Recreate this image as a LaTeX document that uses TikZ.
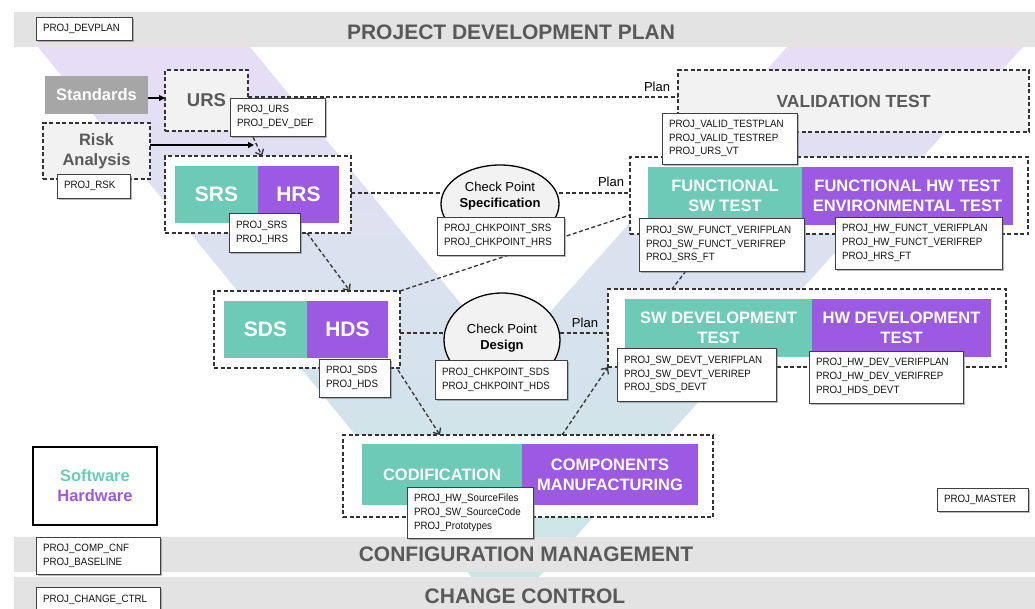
\documentclass[tikz,border=0pt]{standalone}
\usepackage{fontspec}
\setmainfont{Liberation Sans}
\newfontfamily\lblfont{Liberation Sans}[FakeStretch=0.92]
\usetikzlibrary{arrows.meta,shadows,calc,shapes.geometric}
\definecolor{bandgray}{RGB}{227,227,227}
\definecolor{titlegray}{RGB}{89,89,89}
\definecolor{tealc}{RGB}{108,202,182}
\definecolor{purplec}{RGB}{156,89,225}
\definecolor{stdgray}{RGB}{166,166,166}
\definecolor{boxgray}{RGB}{242,242,242}
\definecolor{vtop}{RGB}{231,222,246}
\definecolor{vmid}{RGB}{216,224,237}
\definecolor{vbot}{RGB}{201,230,229}
\definecolor{lineg}{RGB}{51,51,51}
\pgfdeclarelayer{bg}
\pgfdeclarelayer{cn}
\pgfsetlayers{bg,cn,main}
\begin{document}
\begin{tikzpicture}[x=1pt,y=-1pt,
  every node/.style={inner sep=0pt, outer sep=0pt},
  band/.style={fill=bandgray, draw=none, minimum width=1021pt, minimum height=35pt},
  bandtitle/.style={text=titlegray, font=\fontsize{21}{24}\selectfont\bfseries},
  lbl/.style={draw=black!75, fill=white, line width=0.8pt, align=left, inner xsep=7pt,
    font=\lblfont\fontsize{10.6}{13.8}\selectfont, text=black!92,
    drop shadow={shadow xshift=1.5pt, shadow yshift=-1.5pt, opacity=0.5, fill=black!55}},
  grp/.style={draw=lineg, line width=1.2pt, dash pattern=on 4pt off 2.5pt, fill=white},
  tealbox/.style={fill=tealc, text=white, font=\fontsize{16.5}{20}\selectfont\bfseries, align=center},
  purpbox/.style={fill=purplec, text=white, font=\fontsize{16.5}{20}\selectfont\bfseries, align=center},
  big/.style={font=\fontsize{21}{24}\selectfont\bfseries},
  conn/.style={draw=lineg, line width=1.3pt, dash pattern=on 4pt off 2.5pt},
  darr/.style={conn, -{Straight Barb[length=5pt,width=9pt]}},
  sarr/.style={draw=black, line width=1.3pt, -{Triangle[length=6pt,width=6pt]}},
  chk/.style={ellipse, draw=black, line width=1.3pt, fill=boxgray},
  chktext/.style={align=center, font=\fontsize{13}{16}\selectfont},
  plan/.style={font=\fontsize{13}{15}\selectfont}
]
\useasboundingbox (0,0) rectangle (1035,608);
\begin{pgfonlayer}{bg}
\shade[top color=vtop, middle color=vmid, bottom color=vbot]
  (38,47) -- (250,47) -- (507,360) -- (787,47) -- (1023,47) -- (536,580) -- (474,580) -- cycle;
\node[band] (pdp) at (524.5,29.5) {};
\node[band] (cfg) at (524.5,554.5) {};
\node[band, minimum height=34pt] (chg) at (524.5,594) {};
\end{pgfonlayer}
\node[bandtitle] (pdpt) at (511,32) {PROJECT DEVELOPMENT PLAN};
\node[bandtitle] (cfgt) at (526,554) {CONFIGURATION MANAGEMENT};
\node[bandtitle] (chgt) at (525,596) {CHANGE CONTROL};

% left column
\node[fill=stdgray, text=white, font=\fontsize{16.5}{20}\selectfont\bfseries, minimum width=103pt, minimum height=38pt] (std) at (96.5,95) {Standards};
\node[grp, fill=boxgray, minimum width=83pt, minimum height=61pt, text=titlegray, font=\fontsize{18.5}{22}\selectfont\bfseries] (urs) at (206.5,100.5) {URS};
\node[grp, fill=boxgray, minimum width=107pt, minimum height=56pt, text=titlegray, align=center, font=\fontsize{16.5}{20}\selectfont\bfseries] (risk) at (96.5,151) {Risk\\Analysis};

% groups
\node[grp, minimum width=186pt, minimum height=77pt] (srsg) at (258,194.5) {};
\node[tealbox, big, minimum width=83pt, minimum height=57pt] (srs) at (216.5,194.5) {SRS};
\node[purpbox, big, minimum width=81pt, minimum height=57pt] (hrs) at (298.5,194.5) {HRS};

\node[grp, minimum width=186pt, minimum height=77pt] (sdsg) at (307,329.5) {};
\node[tealbox, big, minimum width=83pt, minimum height=57pt] (sds) at (265.5,329.5) {SDS};
\node[purpbox, big, minimum width=81pt, minimum height=57pt] (hds) at (347.5,329.5) {HDS};

\node[grp, minimum width=370pt, minimum height=82pt] (codg) at (528,476) {};
\node[tealbox, minimum width=160pt, minimum height=61pt] (cod) at (442,474.5) {CODIFICATION};
\node[purpbox, minimum width=176pt, minimum height=61pt] (comp) at (610,474.5) {COMPONENTS\\MANUFACTURING};

\node[grp, minimum width=398pt, minimum height=77pt] (functg) at (829,195.5) {};
\node[tealbox, minimum width=154pt, minimum height=58pt] (fsw) at (725,196) {FUNCTIONAL\\SW TEST};
\node[purpbox, minimum width=211pt, minimum height=58pt] (fhw) at (907.5,196) {FUNCTIONAL HW TEST\\ENVIRONMENTAL TEST};

\node[grp, minimum width=398pt, minimum height=78pt] (devg) at (807,328) {};
\node[tealbox, minimum width=187pt, minimum height=58pt] (swdev) at (718.5,328) {SW DEVELOPMENT\\TEST};
\node[purpbox, minimum width=179pt, minimum height=58pt] (hwdev) at (901.5,328) {HW DEVELOPMENT\\TEST};

\node[grp, fill=boxgray, minimum width=351pt, minimum height=62pt, text=titlegray, font=\fontsize{17.5}{21}\selectfont\bfseries] (valid) at (853.5,101) {VALIDATION TEST};

% check points
\node[chk, minimum width=118pt, minimum height=78pt] (spec) at (500,204) {};
\node[chktext] (spect) at (500,196) {Check Point\\\textbf{Specification}};
\node[chk, minimum width=116pt, minimum height=94pt] (design) at (502,340) {};
\node[chktext] (dest) at (502,338) {Check Point\\\textbf{Design}};

% legend
\node[draw=black, line width=1.3pt, minimum width=124pt, minimum height=78pt, align=center, font=\fontsize{16.5}{20}\selectfont\bfseries] (legend) at (95,486) {\textcolor{tealc}{Software}\\\textcolor{purplec}{Hardware}};

% connectors
\begin{pgfonlayer}{cn}
\coordinate (stdp) at ($(std.east)+(0,3)$);
\draw[sarr] (stdp) -- (stdp -| urs.west);
\coordinate (riskp) at ($(risk.east)+(0,-6)$);
\coordinate (riskend) at (254,145);
\draw[sarr] (riskp) -- (riskend);
\coordinate (ursp) at ($(urs.east)+(0,-3.5)$);
\draw[conn] (ursp) -- (ursp -| valid.west);
\draw[darr] ($(srsg.north west)+(88,-19)$) -- ($(srsg.north west)+(97,0)$);
\draw[darr] ($(srsg.south west)+(142,0)$) -- ($(sdsg.north west)+(136,0)$);
\draw[darr] ($(sdsg.south east)+(-2,2)$) -- ($(codg.north west)+(97,0)$);
\draw[darr] ($(codg.north west)+(219,0)$) -- (devg.south west);
\coordinate (srsp) at ($(srsg.east)+(0,-1.5)$);
\draw[conn] (srsp) -- (srsp -| spec.west);
\draw[conn] (spec.east |- srsp) -- (srsp -| functg.west);
\draw[conn] (sdsg.north east) -- ($(functg.north west)+(0,58)$);
\coordinate (sdsp) at ($(sdsg.east)+(0,3.5)$);
\draw[conn] (sdsp) -- (sdsp -| design.west);
\draw[conn] (design.east |- sdsp) -- (sdsp -| devg.west);
\draw[conn] (686,271) -- ($(devg.north west)+(64,0)$);
\end{pgfonlayer}

\node[plan] (plan1) at (657,87) {Plan};
\node[plan] (plan2) at (611,182) {Plan};
\node[plan] (plan3) at (585,323) {Plan};

% labels
\node[lbl, text width=82pt, minimum height=23pt] (devplan) at (84,28.5) {PROJ\_DEVPLAN};
\node[lbl, text width=81pt, minimum height=38pt] (urslbl) at (277.5,117) {PROJ\_URS\\PROJ\_DEV\_DEF};
\node[lbl, text width=59pt, minimum height=24pt] (rsklbl) at (93.5,186) {PROJ\_RSK};
\node[lbl, text width=57pt, minimum height=39pt] (srslbl) at (264.5,232.5) {PROJ\_SRS\\PROJ\_HRS};
\node[lbl, text width=57pt, minimum height=38pt] (sdslbl) at (354.5,378) {PROJ\_SDS\\PROJ\_HDS};
\node[lbl, text width=113pt, minimum height=38pt] (cspl) at (500.5,236) {PROJ\_CHKPOINT\_SRS\\PROJ\_CHKPOINT\_HRS};
\node[lbl, text width=118pt, minimum height=39pt] (cdsl) at (501,379.5) {PROJ\_CHKPOINT\_SDS\\PROJ\_CHKPOINT\_HDS};
\node[lbl, text width=112pt, minimum height=51pt] (codl) at (470,512.5) {PROJ\_HW\_SourceFiles\\PROJ\_SW\_SourceCode\\PROJ\_Prototypes};
\node[lbl, text width=121pt, minimum height=51pt] (validl) at (729.5,138.5) {PROJ\_VALID\_TESTPLAN\\PROJ\_VALID\_TESTREP\\PROJ\_URS\_VT};
\node[lbl, text width=151pt, minimum height=53pt] (swfl) at (721.5,244.5) {PROJ\_SW\_FUNCT\_VERIFPLAN\\PROJ\_SW\_FUNCT\_VERIFREP\\PROJ\_SRS\_FT};
\node[lbl, text width=153pt, minimum height=52pt] (hwfl) at (918.5,243) {PROJ\_HW\_FUNCT\_VERIFPLAN\\PROJ\_HW\_FUNCT\_VERIFREP\\PROJ\_HRS\_FT};
\node[lbl, text width=145pt, minimum height=53pt] (swdl) at (696.5,374.5) {PROJ\_SW\_DEVT\_VERIFPLAN\\PROJ\_SW\_DEVT\_VERIREP\\PROJ\_SDS\_DEVT};
\node[lbl, text width=140pt, minimum height=52pt] (hwdl) at (886,377) {PROJ\_HW\_DEV\_VERIFPLAN\\PROJ\_HW\_DEV\_VERIFREP\\PROJ\_HDS\_DEVT};
\node[lbl, text width=77pt, minimum height=23pt] (master) at (982.5,499.5) {PROJ\_MASTER};
\node[lbl, text width=110pt, minimum height=37pt] (compcnf) at (98,555.5) {PROJ\_COMP\_CNF\\PROJ\_BASELINE};
\node[lbl, text width=110pt, minimum height=26pt] (chgctrl) at (98,600) {PROJ\_CHANGE\_CTRL};
\end{tikzpicture}
\end{document}
